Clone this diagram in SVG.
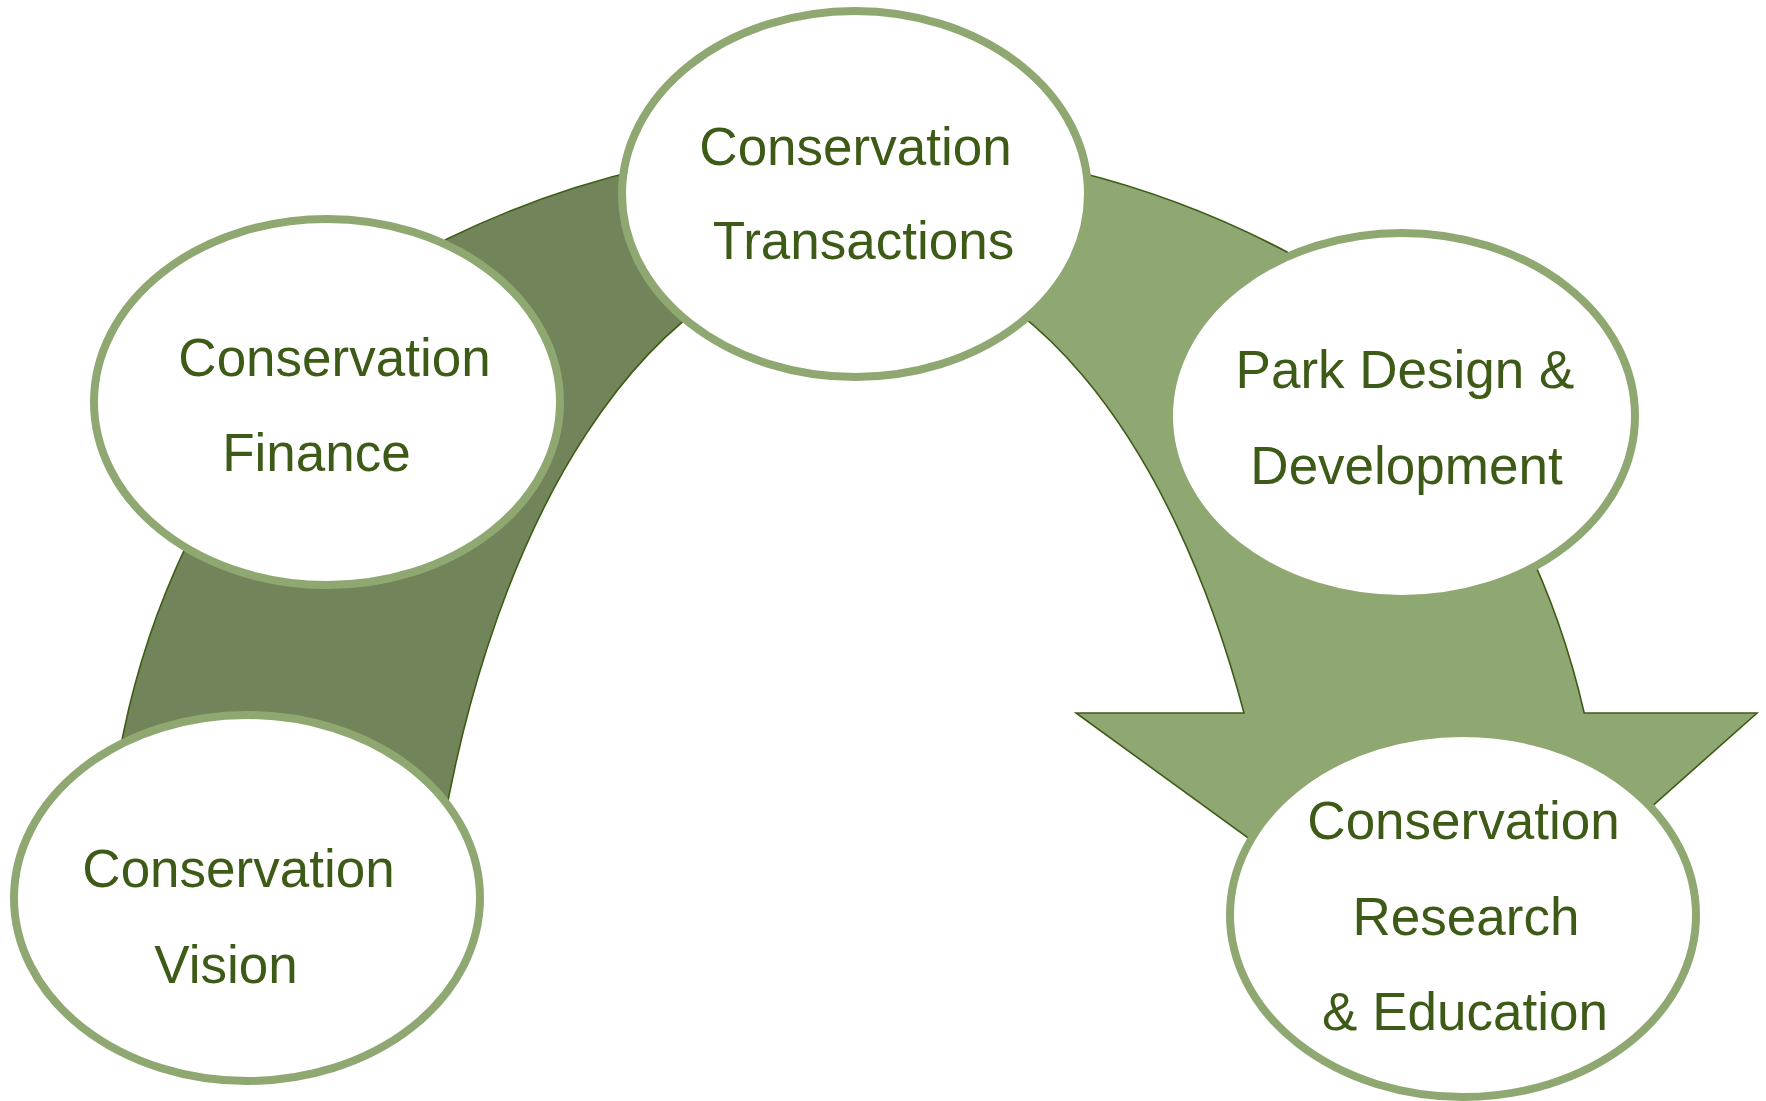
<svg xmlns="http://www.w3.org/2000/svg" width="1766" height="1101" viewBox="0 0 1766 1101">
<style>
.node ellipse{fill:#ffffff;stroke:#8FA872;stroke-width:8}
.node text{font-family:"Liberation Sans",Arial,sans-serif;font-size:53px;fill:#3D5A16;text-anchor:middle}
.band{stroke:#3F5C17;stroke-width:1.6;stroke-linejoin:miter}
</style>
<rect width="1766" height="1101" fill="#ffffff"/>
<g id="connectors">
<path class="band" fill="#72855A" d="M 106.4 900 A 749.6 788.8 0 0 1 447 239 A 930.7 930.7 0 0 1 856 144.3 L 856 252 A 436 848 0 0 0 432.3 900 Z"/>
<path class="band" fill="#8FA772" d="M 856 144.3 A 930.7 930.7 0 0 1 1287 252 A 749.6 788.8 0 0 1 1584.2 713 L 1757 713 L 1451 985 L 1076 713 L 1244 713 A 436 848 0 0 0 856 252 Z"/>
</g>
<g id="node-transactions" class="node">
<ellipse cx="855" cy="194" rx="233" ry="183"/>
<text x="855.5" y="165">Conservation</text>
<text x="863.5" y="259">Transactions</text>
</g>
<g id="node-finance" class="node">
<ellipse cx="327" cy="402" rx="233" ry="183"/>
<text x="334.5" y="376">Conservation</text>
<text x="316.5" y="471">Finance</text>
</g>
<g id="node-vision" class="node">
<ellipse cx="247" cy="898" rx="233" ry="183"/>
<text x="238.5" y="887">Conservation</text>
<text x="226" y="983">Vision</text>
</g>
<g id="node-park" class="node">
<ellipse cx="1402" cy="416" rx="233" ry="183"/>
<text x="1405" y="388">Park Design &amp;</text>
<text x="1406.5" y="484">Development</text>
</g>
<g id="node-research" class="node">
<ellipse cx="1463" cy="915" rx="233" ry="182"/>
<text x="1463.5" y="839">Conservation</text>
<text x="1466" y="935">Research</text>
<text x="1465" y="1030">&amp; Education</text>
</g>
</svg>
